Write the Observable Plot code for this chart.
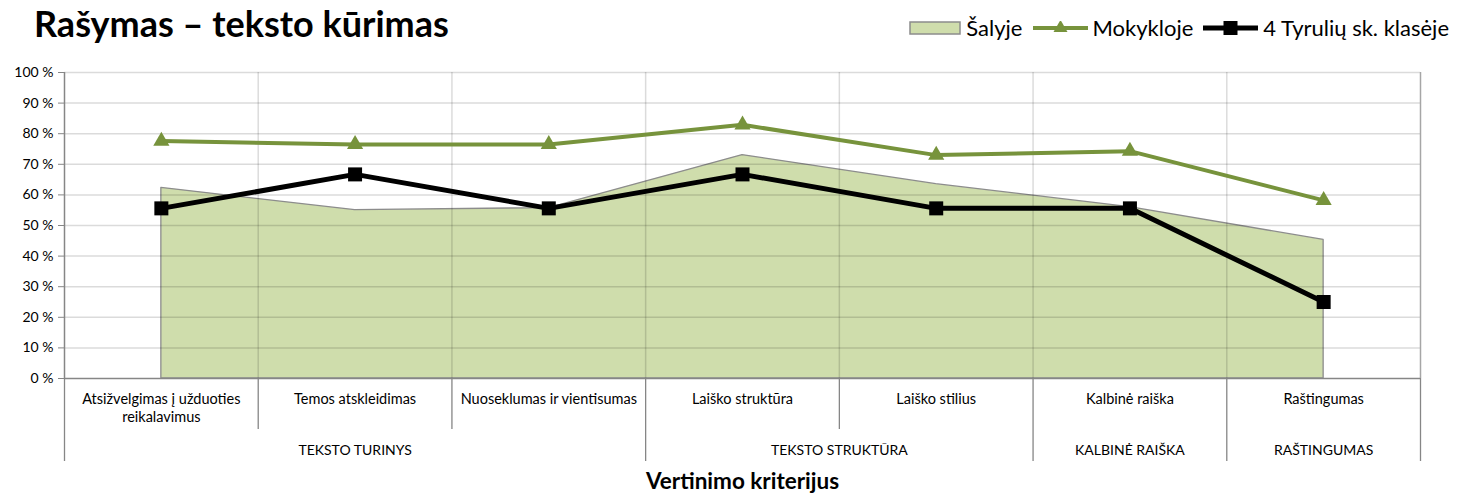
<!DOCTYPE html>
<html>
<head>
<meta charset="utf-8">
<script src="https://cdn.jsdelivr.net/npm/d3@7"></script>
<script src="https://cdn.jsdelivr.net/npm/@observablehq/plot@0.6"></script>
<style>
  html, body { margin: 0; padding: 0; background: #fff; }
  body { width: 1465px; height: 496px; position: relative; overflow: hidden; font-family: Lato, "Noto Sans", sans-serif; }
  #title { position: absolute; left: 34px; top: 1px; font-size: 36px; font-weight: bold; color: #000; white-space: nowrap; }
  #legend { position: absolute; right: 16px; top: 14px; display: flex; align-items: center; font-size: 22px; color: #000; white-space: nowrap; }
  #legend .item { display: flex; align-items: center; margin-left: 10px; }
  #legend svg { margin-right: 5px; }
  #chart { position: absolute; left: 0; top: 58px; }
</style>
</head>
<body>
<div id="title">Rašymas – teksto kūrimas</div>
<div id="legend"></div>
<div id="chart"></div>
<script>
// ---- data ----
const categories = [
  "Atsižvelgimas į užduoties\nreikalavimus",
  "Temos atskleidimas",
  "Nuoseklumas ir vientisumas",
  "Laiško struktūra",
  "Laiško stilius",
  "Kalbinė raiška",
  "Raštingumas"
];
const groups = ["TEKSTO TURINYS", "TEKSTO STRUKTŪRA", "KALBINĖ RAIŠKA", "RAŠTINGUMAS"];
const groupFirst = [0, 3, 5, 6];
const groupLast = [2, 4, 5, 6];
const salyje = [62.3, 55.0, 55.7, 73.0, 63.5, 56.0, 45.3];
const mokykloje = [77.6, 76.5, 76.5, 82.9, 73.0, 74.3, 58.2];
const klase = [55.6, 66.7, 55.6, 66.7, 55.6, 55.6, 25.0];
const yTicks = [0, 10, 20, 30, 40, 50, 60, 70, 80, 90, 100];
const seriesNames = ["Šalyje", "Mokykloje", "4 Tyrulių sk. klasėje"];

// ---- derived tables ----
const rows = categories.map((c, i) => ({i, c, salyje: salyje[i], mokykloje: mokykloje[i], klase: klase[i]}));
const groupRows = groups.map((g, k) => ({g, center: (groupFirst[k] + groupLast[k]) / 2}));
const boundaries = d3.range(categories.length + 1).map(k => k - 0.5);
const groupBounds = [groupFirst[0] - 0.5, ...groupLast.map(l => l + 0.5)];
const innerBounds = boundaries.filter(b => !groupBounds.includes(b));
const gridBounds = boundaries.slice(1, -1);

const green = "#77933c";
const fillGreen = "#cfddac";
const axisGray = "#868686";

const chart = Plot.plot({
  width: 1465,
  height: 438,
  marginLeft: 64,
  marginRight: 45,
  marginTop: 14,
  marginBottom: 118,
  style: {fontFamily: "Lato, 'Noto Sans', sans-serif", background: "#fff", overflow: "visible"},
  x: {type: "linear", domain: [-0.5, categories.length - 0.5], axis: null},
  y: {domain: [0, 100], axis: null},
  marks: [
    Plot.areaY(rows, {x: "i", y: "salyje", fill: fillGreen, stroke: "#8c8c8c", strokeWidth: 1.3}),
    Plot.ruleY(yTicks.filter(d => d > 0), {stroke: "#000", strokeOpacity: 0.14, strokeWidth: 1.5}),
    Plot.ruleX(gridBounds, {y1: 0, y2: 100, stroke: "#000", strokeOpacity: 0.14, strokeWidth: 1.5}),
    Plot.ruleX([categories.length - 0.5], {y1: 0, y2: 100, stroke: "#a6a6a6", strokeWidth: 1.5}),
    Plot.ruleX([-0.5], {y1: 0, y2: 100, stroke: axisGray, strokeWidth: 1.5}),
    Plot.ruleY([0], {stroke: axisGray, strokeWidth: 1.5}),
    Plot.axisY({ticks: yTicks, tickFormat: d => `${d} %`, tickSize: 6, tickPadding: 5, fontSize: 14, stroke: axisGray, fill: "#000"}),
    // below-axis category separators
    Plot.ruleX(innerBounds, {y1: 0, y2: 0, insetBottom: -51, stroke: axisGray, strokeWidth: 1.3}),
    Plot.ruleX(groupBounds, {y1: 0, y2: 0, insetBottom: -83, stroke: axisGray, strokeWidth: 1.3}),
    Plot.text(rows, {x: "i", y: 0, text: "c", lineAnchor: "top", dy: 13, fontSize: 14.5, lineHeight: 1.25, fill: "#000"}),
    Plot.text(groupRows, {x: "center", y: 0, text: "g", lineAnchor: "middle", dy: 72, fontSize: 14, fill: "#000"}),
    Plot.text(["Vertinimo kriterijus"], {frameAnchor: "bottom", dy: 110, fontSize: 22.5, fontWeight: "bold", fill: "#000"}),
    // series
    Plot.line(rows, {x: "i", y: "mokykloje", stroke: green, strokeWidth: 4}),
    Plot.dot(rows, {x: "i", y: "mokykloje", symbol: "triangle", r: 6, fill: green, stroke: "none"}),
    Plot.line(rows, {x: "i", y: "klase", stroke: "#000", strokeWidth: 5}),
    Plot.dot(rows, {x: "i", y: "klase", symbol: "square", r: 7.9, fill: "#000", stroke: "none"})
  ]
});
document.getElementById("chart").appendChild(chart);

// ---- legend ----
const legend = d3.select("#legend");
const swatches = [
  g => { g.append("rect").attr("x", 1).attr("y", 1).attr("width", 50).attr("height", 12).attr("fill", fillGreen).attr("stroke", "#8c8c8c").attr("stroke-width", 1.5); },
  g => { g.append("line").attr("x1", 0).attr("x2", 55).attr("y1", 7).attr("y2", 7).attr("stroke", green).attr("stroke-width", 4);
         g.append("path").attr("transform", "translate(27.5,7)").attr("d", d3.symbol(d3.symbolTriangle, 85)()).attr("fill", green); },
  g => { g.append("line").attr("x1", 0).attr("x2", 55).attr("y1", 7).attr("y2", 7).attr("stroke", "#000").attr("stroke-width", 5);
         g.append("rect").attr("x", 20.5).attr("y", 0).attr("width", 14).attr("height", 14).attr("fill", "#000"); }
];
const swatchW = [52, 55, 55];
seriesNames.forEach((name, k) => {
  const item = legend.append("div").attr("class", "item");
  const s = item.append("svg").attr("width", swatchW[k]).attr("height", 14);
  swatches[k](s);
  item.append("span").text(name);
});
</script>
</body>
</html>
